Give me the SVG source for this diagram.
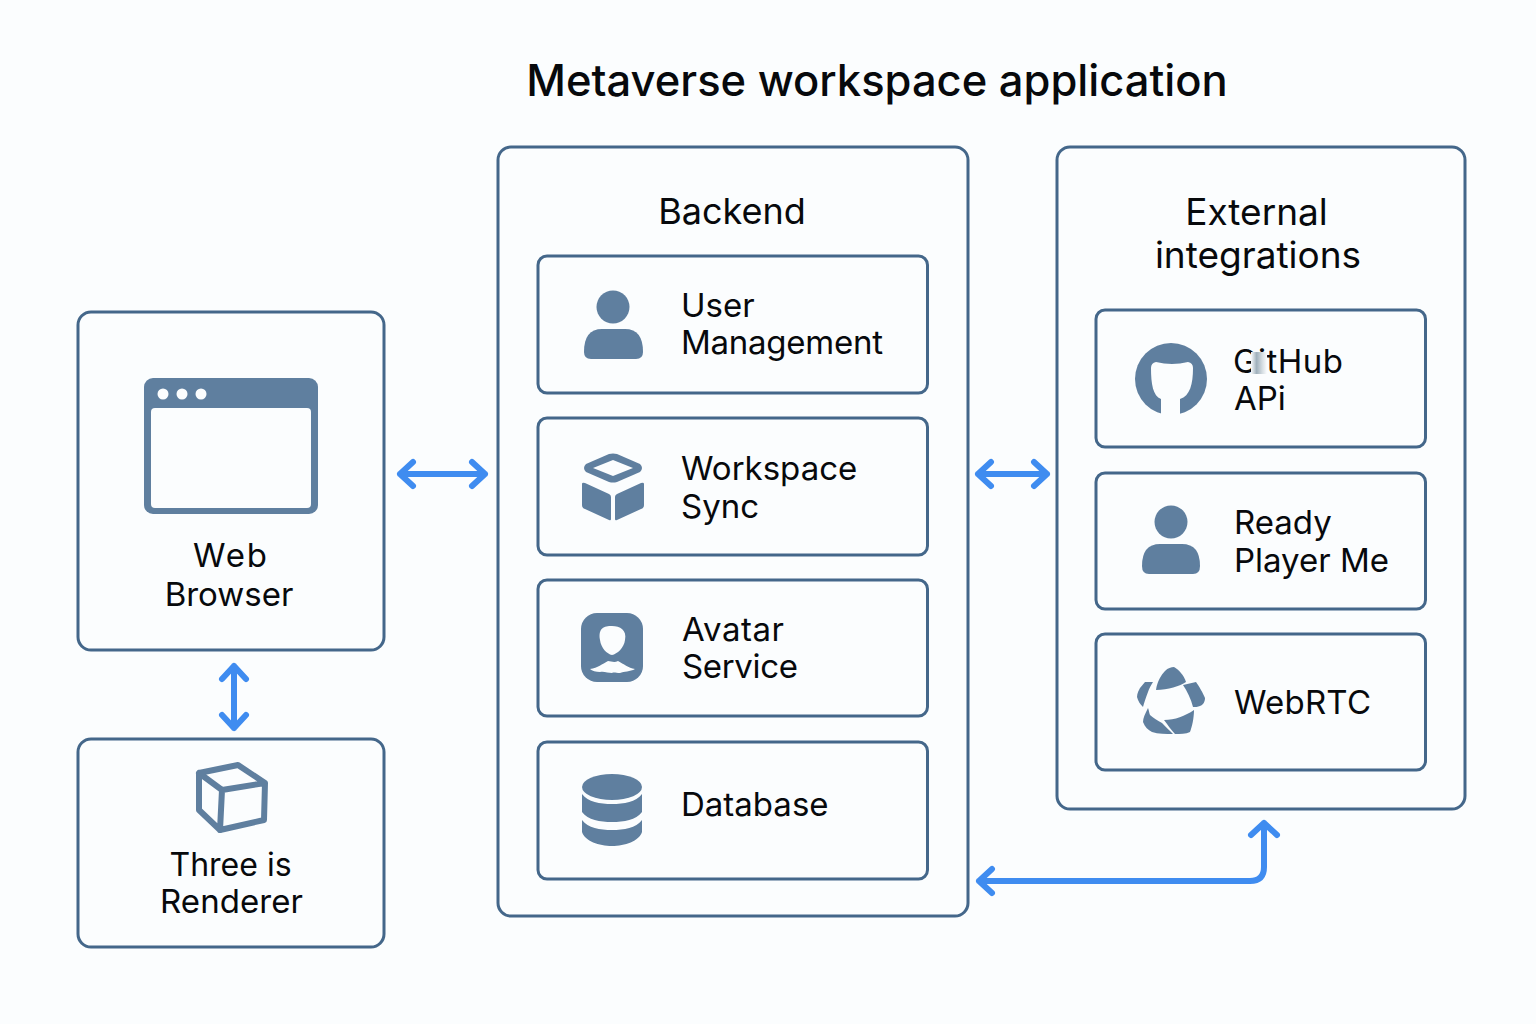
<svg xmlns="http://www.w3.org/2000/svg" width="1536" height="1024" viewBox="0 0 1536 1024">
<defs>
<linearGradient id="smudge" x1="0" y1="0" x2="1" y2="0"><stop offset="0" stop-color="#fbfdfe"/><stop offset="0.35" stop-color="#9fb0bb"/><stop offset="0.7" stop-color="#d5dde2"/><stop offset="1" stop-color="#fbfdfe"/></linearGradient>
<style>
.box{fill:#fbfdfe;stroke:#44678a;stroke-width:3}
.ic{fill:#5f7f9f}
.icl{fill:none;stroke:#5f7f9f;stroke-width:6;stroke-linejoin:round;stroke-linecap:round}
.cut{fill:#fbfdfe}
text{font-family:Inter,"Liberation Sans",sans-serif;fill:#07090c;font-size:33px}
.t{font-size:37px}
.c{text-anchor:middle}
.a{fill:none;stroke:#3f8cf0;stroke-width:6;stroke-linecap:round;stroke-linejoin:round}
</style>
</defs>
<rect width="1536" height="1024" fill="#fbfdfe"/>
<text id="title" x="877" y="96" class="c" style="font-size:43.5px;font-weight:500">Metaverse workspace application</text>
<g id="connectors">
<path class="a" d="M400 474H485M413 462L400 474L413 486M472 462L485 474L472 486"/>
<path class="a" d="M978 474H1047M991 462L978 474L991 486M1034 462L1047 474L1034 486"/>
<path class="a" d="M234 666V728M222 679L234 666L246 679M222 715L234 728L246 715"/>
<path class="a" d="M979 881H1250Q1264 881 1264 867V823M992 869L979 881L992 893M1251 835L1264 823L1277 835"/>
</g>
<g id="web-browser">
<rect class="box" x="78" y="312" width="306" height="338" rx="13"/>
<rect class="ic" x="144" y="378" width="174" height="136" rx="9"/>
<rect class="cut" x="151" y="408" width="160" height="100" rx="4"/>
<circle class="cut" cx="163" cy="394" r="5.5"/><circle class="cut" cx="182" cy="394" r="5.5"/><circle class="cut" cx="201" cy="394" r="5.5"/>
<text x="230" y="567" class="c" textLength="74">Web</text>
<text x="229" y="606" class="c">Browser</text>
</g>
<g id="three-renderer">
<rect class="box" x="78" y="739" width="306" height="208" rx="13"/>
<path class="icl" d="M199 773L238 765L265 783L264 820L220 830L199 810ZM199 773L222 790L265 783M222 790L220 830"/>
<text x="230.500" y="876" class="c" style="font-size:32px">Three is</text>
<text x="231.500" y="913" class="c" textLength="143">Renderer</text>
</g>
<g id="backend">
<rect class="box" x="498" y="147" width="470" height="769" rx="13"/>
<text x="732" y="224" class="c" style="font-size:36px">Backend</text>
</g>
<g id="user-management">
<rect class="box" x="538" y="256" width="389.500" height="137" rx="9"/>
<circle class="ic" cx="613" cy="307" r="16.500"/>
<path class="ic" d="M584 352Q584 329 602 329H625Q643 329 643 352Q643 359 636 359H591Q584 359 584 352Z"/>
<text x="681" y="317">User</text>
<text x="681" y="354" textLength="202">Management</text>
</g>
<g id="workspace-sync">
<rect class="box" x="538" y="418" width="389.500" height="137" rx="9"/>
<path class="ic" d="M609 454Q613 453 617 454L640 464Q644 468 640 472L617 482Q613 483 609 482L586 472Q582 468 586 464Z"/>
<path class="cut" d="M613 460L633 468L613 476L593 468Z"/>
<path class="ic" d="M582 484Q582 482 585 483L609 494Q611 495 611 497V519Q611 521 609 520L585 509Q582 508 582 505Z"/>
<path class="ic" d="M644 484Q644 482 641 483L617 494Q615 495 615 497V519Q615 521 617 520L641 509Q644 508 644 505Z"/>
<text x="681" y="480">Workspace</text>
<text x="681" y="518">Sync</text>
</g>
<g id="avatar-service">
<rect class="box" x="538" y="580" width="389.500" height="136" rx="9"/>
<rect class="ic" x="581" y="613" width="62" height="69" rx="16"/>
<path class="cut" d="M600 640C598 628 604 626 612 626C620 626 627 630 625 640C624 648 617 654 612 655C607 654 601 648 600 640Z"/>
<path class="cut" d="M590 669C598 668 602 664 608 661C611 661 614 663 618 661C624 664 628 668 635 669C630 672 624 671 620 673C616 673 614 672 612 673C608 673 604 671 600 672C596 672 592 671 590 669Z"/>
<text x="682" y="641" textLength="102">Avatar</text>
<text x="682" y="678" textLength="116">Service</text>
</g>
<g id="database">
<rect class="box" x="538" y="742" width="389.500" height="137" rx="9"/>
<ellipse class="ic" cx="612" cy="787" rx="30" ry="13"/>
<path class="ic" d="M582 794C588 802 600 804 612 804C624 804 636 802 642 794V812C636 820 624 822 612 822C600 822 588 820 582 812Z"/>
<path class="ic" d="M582 820C588 828 600 830 612 830C624 830 636 828 642 820V832C639 841 625 846 612 846C599 846 585 841 582 832Z"/>
<text x="681" y="816">Database</text>
</g>
<g id="external">
<rect class="box" x="1057" y="147" width="408" height="662" rx="13"/>
<text x="1256.500" y="225" class="c t">External</text>
<text x="1258" y="268" class="c t">integrations</text>
</g>
<g id="github-api">
<rect class="box" x="1096" y="310" width="329.500" height="137" rx="9"/>
<circle class="ic" cx="1171" cy="379" r="36"/>
<path class="cut" d="M1151 368Q1151 363 1156 362Q1172 366 1188 362Q1193 363 1193 368C1193 384 1190 396 1180 399V415H1161V399C1153 396 1151 384 1151 368Z"/>
<text x="1233" y="373" textLength="110">GitHub</text>
<rect x="1251" y="352" width="16" height="22" fill="url(#smudge)"/>
<text x="1234" y="410">APi</text>
</g>
<g id="ready-player-me">
<rect class="box" x="1096" y="473" width="329.500" height="136" rx="9"/>
<circle class="ic" cx="1171" cy="522" r="16.500"/>
<path class="ic" d="M1142 566Q1142 544 1160 544H1182Q1200 544 1200 566Q1200 574 1193 574H1149Q1142 574 1142 566Z"/>
<text x="1234" y="534">Ready</text>
<text x="1234" y="572">Player Me</text>
</g>
<g id="webrtc">
<rect class="box" x="1096" y="634" width="329.500" height="136" rx="9"/>
<path class="ic" d="M1156 690C1157 682 1161 675 1165 671C1168 668 1171 667 1174 667C1178 669 1184 675 1186 682C1180 686 1168 690 1156 690Z"/>
<path class="ic" d="M1183 685L1196 682C1199 686 1203 693 1205 698C1205 702 1203 705 1200 706C1198 707 1195 707 1193 707C1191 699 1187 691 1183 685Z"/>
<path class="ic" d="M1164 720C1175 720 1185 716 1194 710C1194 718 1192 727 1190 732C1186 734 1180 734 1175 734C1171 730 1168 725 1164 720Z"/>
<path class="ic" d="M1148 708C1145 714 1143 718 1143 722C1145 727 1148 730 1152 732C1158 734 1166 734 1173 734C1169 730 1165 726 1162 723C1157 720 1153 718 1150 715C1149 713 1149 710 1148 708Z"/>
<path class="ic" d="M1145 682L1153 682C1151 685 1149 689 1148 692C1146 697 1144 703 1143 707C1140 704 1138 701 1137 697C1137 693 1139 690 1140 688Z"/>
<text x="1234" y="714" textLength="137">WebRTC</text>
</g>
</svg>
